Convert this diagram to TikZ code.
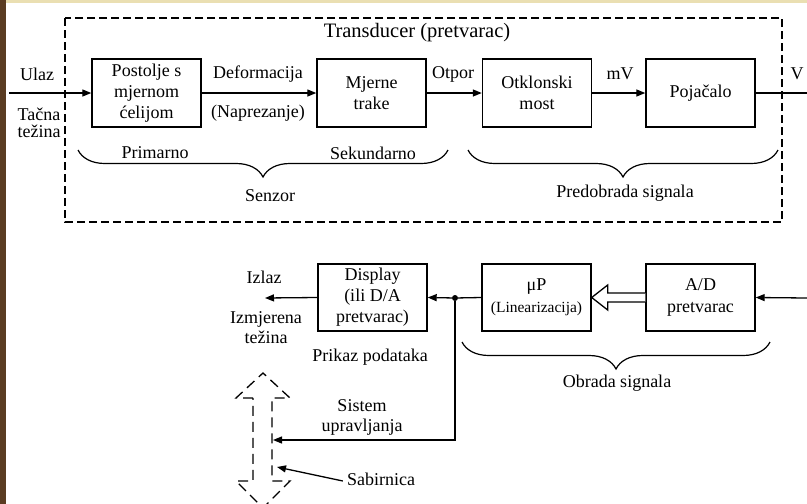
\documentclass[tikz,border=0pt]{standalone}
\usepackage{fontspec}
\setmainfont{Liberation Serif}
\usetikzlibrary{arrows.meta,decorations.pathreplacing,calc}
\definecolor{photobrown}{HTML}{5A3C22}
\definecolor{topyellow}{HTML}{EADFB2}
\begin{document}
\begin{tikzpicture}[x=1pt,y=-1pt,
  box/.style={draw,line width=1.4pt,minimum width=109pt,minimum height=68pt,inner sep=0pt,align=center,font=\fontsize{18}{21}\selectfont},
  lbl/.style={inner sep=0pt,align=center,font=\fontsize{18}{20}\selectfont},
  conn/.style={line width=1.3pt},
  arr/.style={conn,-{Triangle[length=9pt,width=7pt]}},
  brc/.style={decorate,decoration={brace,amplitude=27pt,aspect=0.5},line width=1.2pt},
  dashbox/.style={line width=1.2pt,dash pattern=on 8pt off 4pt},
  busarrow/.style={line width=1.3pt,dash pattern=on 10pt off 6pt}]
\useasboundingbox (0,0) rectangle (807,504);
\fill[white] (0,0) rectangle (807,504);
\fill[topyellow] (0,0) rectangle (807,3);
\fill[photobrown] (0,0) rectangle (6,504);

% transducer frame
\draw[dashbox] (65,18) rectangle (782,222);
\node[lbl,font=\fontsize{20.5}{22}\selectfont] (title) at (417,33) {Transducer (pretvarac)};

% top row boxes
\node[box] (b1) at (146.5,93) {Postolje s\\mjernom\\ćelijom};
\node[box] (b2) at (371.5,93) {Mjerne\\trake};
\node[box] (b3) at (537,93) {Otklonski\\most};
\node[box] (b4) at (700.5,93) {Pojačalo};

\coordinate (in) at (9,93);
\coordinate (vout) at (807,93);
\draw[arr] (in) -- (b1.west);
\draw[arr] (b1.east) -- (b2.west);
\draw[arr] (b2.east) -- (b3.west);
\draw[arr] (b3.east) -- (b4.west);
\draw[conn] (b4.east) -- (vout);

\node[lbl] (ulaz) at (37,74) {Ulaz};
\node[lbl,font=\fontsize{18}{17}\selectfont] (tacna) at (39,123) {Tačna\\težina};
\node[lbl] (def) at (258,74) {Deformacija};
\node[lbl] (napr) at (258,113) {(Naprezanje)};
\node[lbl] (otpor) at (453,74) {Otpor};
\node[lbl] (mv) at (620,74) {mV};
\node[lbl] (v) at (797,74) {V};

% braces top
\draw[brc] (448,150) -- (78,150);
\node[lbl] (prim) at (155,153) {Primarno};
\node[lbl] (sek) at (373,153) {Sekundarno};
\node[lbl] (senzor) at (270,196) {Senzor};
\draw[brc] (778,150) -- (468,150);
\node[lbl] (pred) at (625,193) {Predobrada signala};

% lower row boxes
\node[box,minimum height=67pt] (disp) at (372.5,297.5) {Display\\(ili D/A\\pretvarac)};
\node[box,minimum height=67pt] (mup) at (536.5,297.5) {μP\\[1pt]{\fontsize{15.5}{17}\selectfont (Linearizacija)}};
\node[box,minimum height=67pt,font=\fontsize{18}{22}\selectfont] (ad) at (700.5,297.5) {A/D\\pretvarac};

\coordinate (adin) at (807,298);
\coordinate (izl) at (265,298);
\draw[arr] (adin) -- (ad.east);
% hollow arrow
\draw[line width=1.3pt,fill=white,line join=miter]
  ($(ad.west)+(0,-4.5)$) -- ($(mup.east)+(16,-4.5)$) -- ($(mup.east)+(16,-12.5)$) -- (mup.east)
  -- ($(mup.east)+(16,12.5)$) -- ($(mup.east)+(16,4.5)$) -- ($(ad.west)+(0,4.5)$);
\node[circle,fill,inner sep=0pt,minimum size=6pt] (dot) at (455,298) {};
\draw[conn] (mup.west) -- (dot);
\draw[arr] (dot) -- (disp.east);
\draw[arr] (disp.west) -- (izl);

\node[lbl] (izlaz) at (264,277) {Izlaz};
\node[lbl] (izmj) at (266,328) {Izmjerena\\težina};
\node[lbl] (prikaz) at (370,357) {Prikaz podataka};

\draw[brc] (770,342) -- (462,342);
\node[lbl] (obrada) at (617,383) {Obrada signala};

% bus (dashed double arrow)
\begin{scope}
\clip (0,0) rectangle (807,504);
\draw[busarrow,line join=miter] (253,398) -- (236,398) -- (263,373) -- (290,398) -- (272,398)
  -- (272,481) -- (290,481) -- (263,508) -- (236,481) -- (253,481) -- cycle;
\end{scope}
\coordinate (busin) at (273,440);
\draw[arr] (dot) |- (busin);
\node[lbl] (sistem) at (362,417) {Sistem\\upravljanja};
\node[lbl] (sab) at (381,479) {Sabirnica};
\coordinate (busptr) at (277,467);
\draw[arr] ($(sab.west)+(-4,2)$) -- (busptr);
\end{tikzpicture}
\end{document}
